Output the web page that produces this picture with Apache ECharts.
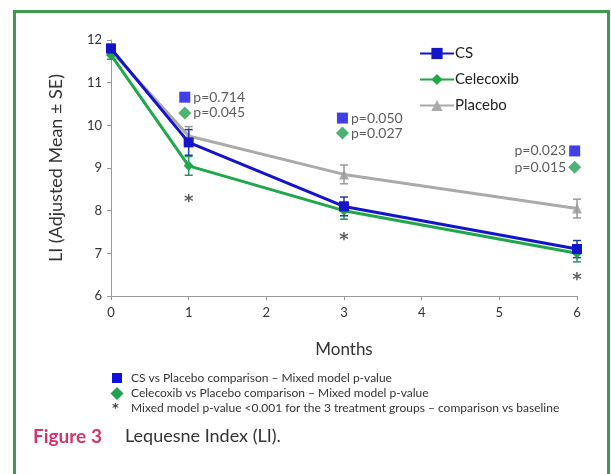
<!DOCTYPE html>
<html><head><meta charset="utf-8">
<script src="https://cdn.jsdelivr.net/npm/echarts@6/dist/echarts.min.js"></script>
<style>html,body{margin:0;padding:0;background:#fff}#c{width:611px;height:474px}</style>
</head><body><div id="c"></div>
<script>
const months = [0, 1, 3, 6];
const csMean = [11.8, 9.6, 8.1, 7.1];
const csSE = [0.1, 0.3, 0.22, 0.2];
const celMean = [11.65, 9.05, 8.0, 7.0];
const celSE = [0.1, 0.22, 0.2, 0.2];
const plaMean = [11.75, 9.75, 8.85, 8.05];
const plaSE = [0.12, 0.22, 0.22, 0.22];
const pMonths = [1, 3, 6];
const pCS = ['p=0.714', 'p=0.050', 'p=0.023'];
const pCel = ['p=0.045', 'p=0.027', 'p=0.015'];
const starMonths = [1, 3, 6];

// layout (annotation placement in axis units)
const pCSy = [10.66, 10.17, 9.40];
const pCely = [10.29, 9.82, 9.02];
const pXoff = [-0.05, -0.02, -0.03];
const stary = [8.2, 7.3, 6.36];

const C_CS = '#1414c8', C_CEL = '#1fa84a', C_PLA = '#aaaaaa';
const FONT = 'Lato';

function errSeries(name, mean, se, color) {
  return {
    type: 'custom', name: name + 'err', silent: true, z: 3,
    data: months.map((m, i) => [m, mean[i] - se[i], mean[i] + se[i]]),
    renderItem: function (params, api) {
      const lo = api.coord([api.value(0), api.value(1)]);
      const hi = api.coord([api.value(0), api.value(2)]);
      const w = 4;
      const st = { stroke: color, lineWidth: 1.5 };
      return { type: 'group', children: [
        { type: 'line', shape: { x1: lo[0], y1: lo[1], x2: hi[0], y2: hi[1] }, style: st },
        { type: 'line', shape: { x1: lo[0] - w, y1: lo[1], x2: lo[0] + w, y2: lo[1] }, style: st },
        { type: 'line', shape: { x1: hi[0] - w, y1: hi[1], x2: hi[0] + w, y2: hi[1] }, style: st }
      ]};
    }
  };
}
function lineSeries(name, mean, color, symbol, size, z) {
  return {
    type: 'line', name: name, z: z,
    data: months.map((m, i) => [m, mean[i]]),
    symbol: symbol, symbolSize: size, showSymbol: true,
    lineStyle: { color: color, width: 3 },
    itemStyle: { color: color }
  };
}
const chart = echarts.init(document.getElementById('c'), null, { renderer: 'canvas' });
chart.setOption({
  animation: false,
  textStyle: { fontFamily: FONT },
  grid: { left: 111, right: 34, top: 40, bottom: 178 },
  legend: {
    data: ['CS', 'Celecoxib', 'Placebo'], orient: 'vertical',
    left: 414, top: 41, itemWidth: 34, itemHeight: 14, itemGap: 11,
    textStyle: { fontFamily: FONT, fontSize: 15, color: '#222', padding: [0, 0, 0, -4] }
  },
  xAxis: {
    type: 'value', min: 0, max: 6, interval: 1,
    name: 'Months', nameLocation: 'middle', nameGap: 45,
    nameTextStyle: { fontFamily: FONT, fontSize: 17, color: '#333' },
    axisLine: { lineStyle: { color: '#999' } },
    axisTick: { show: true, length: 4, lineStyle: { color: '#999' } },
    axisLabel: { fontFamily: FONT, fontSize: 13, color: '#333', margin: 10 },
    splitLine: { show: false }
  },
  yAxis: {
    type: 'value', min: 6, max: 12, interval: 1,
    name: 'LI (Adjusted Mean \u00b1 SE)', nameLocation: 'middle', nameGap: 46,
    nameTextStyle: { fontFamily: FONT, fontSize: 18, color: '#333' },
    axisLine: { show: true, lineStyle: { color: '#999' } },
    axisTick: { show: true, length: 4, lineStyle: { color: '#999' } },
    axisLabel: { fontFamily: FONT, fontSize: 13, color: '#333', margin: 9 },
    splitLine: { show: false }
  },
  series: [
    lineSeries('Placebo', plaMean, C_PLA, 'triangle', 10, 2),
    lineSeries('Celecoxib', celMean, C_CEL, 'diamond', 10, 3),
    lineSeries('CS', csMean, C_CS, 'rect', 10, 4),
    errSeries('Placebo', plaMean, plaSE, '#999999'),
    errSeries('Celecoxib', celMean, celSE, '#2a8f6a'),
    errSeries('CS', csMean, csSE, '#1a3fa0'),
    {
      type: 'scatter', name: 'pcs', symbol: 'rect', symbolSize: 11, itemStyle: { color: '#1010e0' },
      data: pMonths.map((m, i) => ({ value: [m + pXoff[i], pCSy[i]],
        label: { show: true, formatter: pCS[i], position: i === 2 ? 'left' : 'right', distance: 3, fontFamily: FONT, fontSize: 14, color: '#333' } }))
    },
    {
      type: 'scatter', name: 'pcel', symbol: 'diamond', symbolSize: 13, itemStyle: { color: '#20a050' },
      data: pMonths.map((m, i) => ({ value: [m + pXoff[i], pCely[i]],
        label: { show: true, formatter: pCel[i], position: i === 2 ? 'left' : 'right', distance: 2, fontFamily: FONT, fontSize: 14, color: '#333' } }))
    },
    {
      type: 'scatter', name: 'star', symbolSize: 1, itemStyle: { color: 'rgba(0,0,0,0)' },
      data: starMonths.map((m, i) => ({ value: [m, stary[i]],
        label: { show: true, formatter: '*', position: 'inside', fontFamily: 'DejaVu Sans', fontWeight: 'bold', fontSize: 18, color: '#333' } }))
    }
  ],
  graphic: [
    { type: 'rect', shape: { x: 14.5, y: 11.5, width: 594, height: 480 }, style: { fill: 'none', stroke: '#3f9a4a', lineWidth: 3 } },
    { type: 'rect', shape: { x: 112, y: 373, width: 10, height: 10 }, style: { fill: '#1010e0' } },
    { type: 'polygon', shape: { points: [[117, 387], [123.5, 393.5], [117, 400], [110.5, 393.5]] }, style: { fill: '#20a050' } },
    { type: 'text', x: 112, y: 402, style: { text: '*', fontFamily: 'DejaVu Sans', fontWeight: 'bold', fontSize: 13, fill: '#444' } },
    { type: 'text', x: 131, y: 372, style: { text: 'CS vs Placebo comparison \u2013 Mixed model p-value', fontFamily: FONT, fontSize: 12, fill: '#333' } },
    { type: 'text', x: 131, y: 387, style: { text: 'Celecoxib vs Placebo comparison \u2013 Mixed model p-value', fontFamily: FONT, fontSize: 12, fill: '#333' } },
    { type: 'text', x: 131, y: 402, style: { text: 'Mixed model p-value <0.001 for the 3 treatment groups \u2013 comparison vs baseline', fontFamily: FONT, fontSize: 12, fill: '#333' } },
    { type: 'text', x: 33, y: 427, style: { text: 'Figure 3', fontFamily: FONT, fontSize: 19, fontWeight: 'bold', fill: '#d6336c' } },
    { type: 'text', x: 125, y: 427, style: { text: 'Lequesne Index (LI).', fontFamily: FONT, fontSize: 18, fill: '#333' } }
  ]
});
</script></body></html>
